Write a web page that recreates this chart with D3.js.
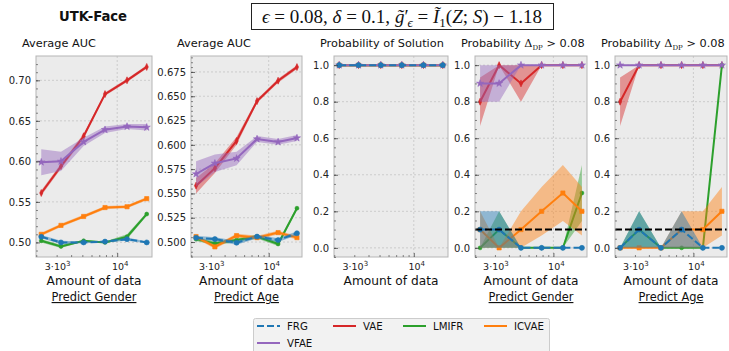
<!DOCTYPE html>
<html>
<head>
<meta charset="utf-8">
<script src="https://cdn.jsdelivr.net/npm/d3@7"></script>
<style>
    body { margin: 0; background: #fff; }
    svg { font-family: "DejaVu Sans", sans-serif; }
</style>
</head>
<body>
<div id="chart"></div>
<script>

// ---- data ----
const methods = ["FRG", "VAE", "LMIFR", "ICVAE", "VFAE"];
const dataSizes = [2210, 3270, 5130, 7850, 12160, 17990];
const threshold = 0.1;

// Predict Gender, average AUC (rows follow methods)
const aucGender = [
    [0.507, 0.500, 0.500, 0.501, 0.504, 0.500],
    [0.561, 0.594, 0.631, 0.683, 0.700, 0.7165],
    [0.502, 0.495, 0.502, 0.500, 0.507, 0.535],
    [0.510, 0.521, 0.532, 0.543, 0.544, 0.554],
    [0.599, 0.600, 0.624, 0.639, 0.643, 0.642]
];
const aucGenderErr = [
    [0.002, 0.002, 0.001, 0.001, 0.002, 0.001],
    [0.003, 0.003, 0.003, 0.002, 0.002, 0.002],
    [0.002, 0.002, 0.001, 0.001, 0.003, 0.002],
    [0.002, 0.002, 0.002, 0.002, 0.002, 0.002],
    [0.016, 0.012, 0.005, 0.004, 0.003, 0.004]
];

// Predict Age, average AUC
const aucAge = [
    [0.5045, 0.503, 0.4993, 0.5056, 0.502, 0.509],
    [0.558, 0.576, 0.604, 0.645, 0.666, 0.680],
    [0.503, 0.4986, 0.502, 0.5056, 0.498, 0.5348],
    [0.5056, 0.495, 0.5066, 0.5045, 0.5097, 0.5045],
    [0.570, 0.581, 0.586, 0.606, 0.603, 0.607]
];
const aucAgeErr = [
    [0.002, 0.002, 0.002, 0.002, 0.002, 0.002],
    [0.008, 0.005, 0.004, 0.002, 0.002, 0.002],
    [0.002, 0.002, 0.002, 0.002, 0.002, 0.002],
    [0.002, 0.002, 0.002, 0.002, 0.002, 0.002],
    [0.013, 0.009, 0.007, 0.003, 0.003, 0.003]
];

// probability of solution
const probSolution = [
    [1, 1, 1, 1, 1, 1],
    [1, 1, 1, 1, 1, 1],
    [1, 1, 1, 1, 1, 1],
    [1, 1, 1, 1, 1, 1],
    [1, 1, 1, 1, 1, 1]
];
const probSolutionErr = [
    [0, 0, 0, 0, 0, 0],
    [0, 0, 0, 0, 0, 0],
    [0, 0, 0, 0, 0, 0],
    [0, 0, 0, 0, 0, 0],
    [0, 0, 0, 0, 0, 0]
];

// probability delta_DP > 0.08, gender
const probDpGender = [
    [0.1, 0.1, 0.0, 0.0, 0.0, 0.0],
    [0.8, 1.0, 0.9, 1.0, 1.0, 1.0],
    [0.0, 0.1, 0.0, 0.0, 0.0, 0.3],
    [0.1, 0.0, 0.1, 0.2, 0.3, 0.2],
    [0.9, 0.9, 1.0, 1.0, 1.0, 1.0]
];
const probDpGenderErr = [
    [0.1, 0.1, 0, 0, 0, 0],
    [0.133, 0, 0.1, 0, 0, 0],
    [0, 0.1, 0, 0, 0, 0.153],
    [0.1, 0, 0.1, 0.133, 0.153, 0.133],
    [0.1, 0.1, 0, 0, 0, 0]
];

// probability delta_DP > 0.08, age
const probDpAge = [
    [0.0, 0.1, 0.0, 0.1, 0.0, 0.0],
    [0.8, 1.0, 1.0, 1.0, 1.0, 1.0],
    [0.0, 0.1, 0.0, 0.0, 0.0, 1.0],
    [0.0, 0.0, 0.0, 0.1, 0.1, 0.2],
    [1.0, 1.0, 1.0, 1.0, 1.0, 1.0]
];
const probDpAgeErr = [
    [0, 0.1, 0, 0.1, 0, 0],
    [0.133, 0, 0, 0, 0, 0],
    [0, 0.1, 0, 0, 0, 0],
    [0, 0, 0, 0.1, 0.1, 0.133],
    [0, 0, 0, 0, 0, 0]
];

// tick labels
const aucGenderTicks = [0.50, 0.55, 0.60, 0.65, 0.70];
const aucAgeTicks = [0.500, 0.525, 0.550, 0.575, 0.600, 0.625, 0.650, 0.675];
const probTicks = [0.0, 0.2, 0.4, 0.6, 0.8, 1.0];
const xTickValues = [3000, 10000];
const xTickBase = ["3·10", "10"];
const xTickExp = ["3", "4"];

// ---- styles ----
const colors = {FRG: "#1f77b4", VAE: "#d62728", LMIFR: "#2ca02c", ICVAE: "#ff7f0e", VFAE: "#9467bd"};
const drawOrder = ["VAE", "LMIFR", "ICVAE", "VFAE", "FRG"];

const W = 729, H = 351;
const plotTop = 56, plotBottom = 257;

const svg = d3.select("#chart").append("svg")
    .attr("width", W)
    .attr("height", H);

// log x domain with matplotlib-like 5% margins
const lx = d3.extent(dataSizes).map(Math.log10);
const pad = (lx[1] - lx[0]) * 0.05;
const xDomain = [Math.pow(10, lx[0] - pad), Math.pow(10, lx[1] + pad)];

class PanelVis {

    constructor(parent, cfg) {
        this.parent = parent;
        this.cfg = cfg;
        this.initVis();
    }

    initVis() {
        let vis = this;
        let cfg = vis.cfg;

        vis.width = cfg.width;
        vis.height = plotBottom - plotTop;

        vis.g = vis.parent.append("g")
            .attr("transform", "translate(" + cfg.left + "," + plotTop + ")");

        vis.x = d3.scaleLog().domain(xDomain).range([0, vis.width]);
        vis.y = d3.scaleLinear().domain(cfg.yDomain).range([vis.height, 0]);

        // background
        vis.g.append("rect")
            .attr("width", vis.width)
            .attr("height", vis.height)
            .attr("fill", "#ebebeb");

        // grid
        vis.g.selectAll(".hgrid")
            .data(cfg.yTicks)
            .enter().append("line")
            .attr("x1", 0).attr("x2", vis.width)
            .attr("y1", d => vis.y(d)).attr("y2", d => vis.y(d))
            .attr("stroke", "#c4c4c4")
            .attr("stroke-width", 0.8)
            .attr("stroke-dasharray", "2,2");

        vis.g.append("line")
            .attr("x1", vis.x(10000)).attr("x2", vis.x(10000))
            .attr("y1", 0).attr("y2", vis.height)
            .attr("stroke", "#c4c4c4")
            .attr("stroke-width", 0.8)
            .attr("stroke-dasharray", "2,2");

        vis.plot = vis.g.append("g");

        vis.updateVis();

        // frame
        vis.g.append("rect")
            .attr("width", vis.width)
            .attr("height", vis.height)
            .attr("fill", "none")
            .attr("stroke", "#b5b5b5")
            .attr("stroke-width", 1);

        // y axis (ticks inward)
        let yMinor = d3.range(cfg.yDomain[0], cfg.yDomain[1], cfg.yMinorStep)
            .map(d => Math.round(d / cfg.yMinorStep) * cfg.yMinorStep)
            .filter(d => d >= cfg.yDomain[0] && d <= cfg.yDomain[1]);

        vis.g.append("g")
            .call(d3.axisLeft(vis.y).tickValues(yMinor).tickSizeInner(-2).tickSizeOuter(0).tickFormat(""))
            .call(g => g.select(".domain").remove())
            .selectAll("line").attr("stroke", "#555").attr("stroke-width", 0.7);

        vis.yAxis = vis.g.append("g")
            .call(d3.axisLeft(vis.y).tickValues(cfg.yTicks).tickSizeInner(-4).tickSizeOuter(0)
                .tickPadding(5).tickFormat(d3.format(cfg.fmt)))
            .call(g => g.select(".domain").remove());
        vis.yAxis.selectAll("line").attr("stroke", "#444").attr("stroke-width", 0.8);
        vis.yAxis.selectAll("text")
            .attr("font-size", 10)
            .attr("font-family", "DejaVu Sans")
            .attr("fill", "#222");

        // x axis minor + major (ticks inward)
        let xMinor = [2000, 3000, 4000, 5000, 6000, 7000, 8000, 9000, 20000]
            .filter(d => d >= xDomain[0] && d <= xDomain[1]);
        vis.g.append("g")
            .attr("transform", "translate(0," + vis.height + ")")
            .call(d3.axisBottom(vis.x).tickValues(xMinor).tickSizeInner(-2).tickSizeOuter(0).tickFormat(""))
            .call(g => g.select(".domain").remove())
            .selectAll("line").attr("stroke", "#555").attr("stroke-width", 0.7);
        vis.g.append("g")
            .attr("transform", "translate(0," + vis.height + ")")
            .call(d3.axisBottom(vis.x).tickValues([10000]).tickSizeInner(-4).tickSizeOuter(0).tickFormat(""))
            .call(g => g.select(".domain").remove())
            .selectAll("line").attr("stroke", "#444").attr("stroke-width", 0.8);

        xTickValues.forEach((v, i) => {
            let t = vis.g.append("text")
                .attr("x", vis.x(v) + (i === 0 ? 1 : 3))
                .attr("y", vis.height + 13)
                .attr("text-anchor", "middle")
                .attr("font-size", 9.5)
                .attr("fill", "#222");
            t.append("tspan").text(xTickBase[i]);
            t.append("tspan").attr("dy", -4).attr("font-size", 7).text(xTickExp[i]);
        });

        // x label
        vis.g.append("text")
            .attr("x", vis.width / 2)
            .attr("y", 229)
            .attr("text-anchor", "middle")
            .attr("font-size", 12.2)
            .attr("fill", "#111")
            .text("Amount of data");

        // title (top left)
        let title = vis.g.append("text")
            .attr("x", -14)
            .attr("y", -9)
            .attr("font-size", 11.3)
            .attr("fill", "#111");
        if (cfg.dp) {
            title.append("tspan").text("Probability ");
            title.append("tspan").attr("font-family", "DejaVu Serif").attr("font-size", 11.3).text("Δ");
            title.append("tspan").attr("font-family", "DejaVu Serif").attr("font-size", 7).attr("dy", 3).text("DP");
            title.append("tspan").attr("dy", -3).text(" > 0.08");
        } else {
            title.text(cfg.title);
        }

        // task caption
        if (cfg.task) {
            vis.g.append("text")
                .attr("x", vis.width / 2)
                .attr("y", 245)
                .attr("text-anchor", "middle")
                .attr("font-size", 11.4)
                .attr("fill", "#111")
                .attr("text-decoration", "underline")
                .text(cfg.task);
        }
    }

    updateVis() {
        let vis = this;
        let cfg = vis.cfg;

        let area = d3.area()
            .x(d => vis.x(d.x))
            .y0(d => vis.y(d.lo))
            .y1(d => vis.y(d.hi));

        let line = d3.line()
            .x(d => vis.x(d.x))
            .y(d => vis.y(d.v));

        drawOrder.forEach(m => {
            let k = methods.indexOf(m);
            let pts = dataSizes.map((s, i) => ({
                x: s,
                v: cfg.mean[k][i],
                lo: cfg.mean[k][i] - cfg.err[k][i],
                hi: cfg.mean[k][i] + cfg.err[k][i]
            }));
            let col = colors[m];

            vis.plot.append("path")
                .datum(pts)
                .attr("d", area)
                .attr("fill", col)
                .attr("fill-opacity", 0.45);

            vis.plot.append("path")
                .datum(pts)
                .attr("d", line)
                .attr("fill", "none")
                .attr("stroke", col)
                .attr("stroke-width", 2)
                .attr("stroke-dasharray", m === "FRG" ? "7,3" : null);

            let sym;
            if (m === "FRG") sym = d3.symbol(d3.symbolCircle, 20);
            else if (m === "VAE") sym = null;
            else if (m === "LMIFR") sym = d3.symbol(d3.symbolCircle, 12);
            else if (m === "ICVAE") sym = d3.symbol(d3.symbolSquare, 18);
            else sym = d3.symbol(d3.symbolStar, 16);

            vis.plot.selectAll(".mk-" + m)
                .data(pts)
                .enter().append("path")
                .attr("class", "mk-" + m)
                .attr("transform", d => "translate(" + vis.x(d.x) + "," + vis.y(d.v) + ")")
                .attr("d", sym ? sym() : "M0,-3.5L1.6,0L0,3.5L-1.6,0Z")
                .attr("fill", col)
                .attr("stroke", col)
                .attr("stroke-width", 0.6);
        });

        if (cfg.dp) {
            vis.plot.append("line")
                .attr("x1", 0).attr("x2", vis.width)
                .attr("y1", vis.y(threshold)).attr("y2", vis.y(threshold))
                .attr("stroke", "#000")
                .attr("stroke-width", 2)
                .attr("stroke-dasharray", "7,3");
        }
    }
}

const panels = [
    {left: 36, width: 116, yDomain: [0.482, 0.730], yTicks: aucGenderTicks, yMinorStep: 0.01, fmt: ".2f",
        mean: aucGender, err: aucGenderErr, title: "Average AUC", task: "Predict Gender"},
    {left: 191, width: 111, yDomain: [0.4846, 0.6914], yTicks: aucAgeTicks, yMinorStep: 0.005, fmt: ".3f",
        mean: aucAge, err: aucAgeErr, title: "Average AUC", task: "Predict Age"},
    {left: 334, width: 114, yDomain: [-0.05, 1.05], yTicks: probTicks, yMinorStep: 0.05, fmt: ".1f",
        mean: probSolution, err: probSolutionErr, title: "Probability of Solution", task: ""},
    {left: 475, width: 112, yDomain: [-0.05, 1.05], yTicks: probTicks, yMinorStep: 0.05, fmt: ".1f",
        mean: probDpGender, err: probDpGenderErr, dp: true, task: "Predict Gender"},
    {left: 615, width: 112, yDomain: [-0.05, 1.05], yTicks: probTicks, yMinorStep: 0.05, fmt: ".1f",
        mean: probDpAge, err: probDpAgeErr, dp: true, task: "Predict Age"}
];

panels.forEach(p => new PanelVis(svg, p));

// dataset name
svg.append("text")
    .attr("x", 93)
    .attr("y", 21)
    .attr("text-anchor", "middle")
    .attr("font-size", 13.2)
    .attr("font-weight", "bold")
    .attr("fill", "#111")
    .text("UTK-Face");

// boxed setting title
svg.append("rect")
    .attr("x", 251.5).attr("y", 3.5)
    .attr("width", 302).attr("height", 26)
    .attr("fill", "#fff")
    .attr("stroke", "#222")
    .attr("stroke-width", 1);

let sup = svg.append("text")
    .attr("x", 402)
    .attr("y", 22.5)
    .attr("text-anchor", "middle")
    .attr("font-family", "Liberation Serif, DejaVu Serif, serif")
    .attr("font-size", 19)
    .attr("fill", "#111");
sup.append("tspan").attr("font-style", "italic").text("ϵ");
sup.append("tspan").text(" = 0.08, ");
sup.append("tspan").attr("font-style", "italic").text("δ");
sup.append("tspan").text(" = 0.1, ");
sup.append("tspan").attr("font-style", "italic").text("g̃");
sup.append("tspan").text("′");
sup.append("tspan").attr("font-style", "italic").attr("font-size", 13).attr("dx", -1).attr("dy", 4).text("ϵ");
sup.append("tspan").attr("dy", -4).text(" = ");
sup.append("tspan").attr("font-style", "italic").text("Ĩ");
sup.append("tspan").attr("font-size", 13).attr("dy", 4).text("1");
sup.append("tspan").attr("dy", -4).text("(");
sup.append("tspan").attr("font-style", "italic").text("Z");
sup.append("tspan").text("; ");
sup.append("tspan").attr("font-style", "italic").text("S");
sup.append("tspan").text(") − 1.18");

// legend
const legend = svg.append("g");
legend.append("rect")
    .attr("x", 253.5).attr("y", 318.5)
    .attr("width", 296).attr("height", 42)
    .attr("rx", 2)
    .attr("fill", "#f2f2f2")
    .attr("stroke", "#cccccc");

const legendPos = [[257, 326], [333, 326], [403, 326], [484, 326], [257, 343]];
methods.forEach((m, i) => {
    let [lx0, ly] = legendPos[i];
    legend.append("line")
        .attr("x1", lx0).attr("x2", lx0 + 23)
        .attr("y1", ly).attr("y2", ly)
        .attr("stroke", colors[m])
        .attr("stroke-width", 2)
        .attr("stroke-dasharray", m === "FRG" ? "7,3" : null);
    legend.append("text")
        .attr("x", lx0 + 30)
        .attr("y", ly + 3.7)
        .attr("font-size", 10.2)
        .attr("fill", "#111")
        .text(m);
});

</script>
</body>
</html>
